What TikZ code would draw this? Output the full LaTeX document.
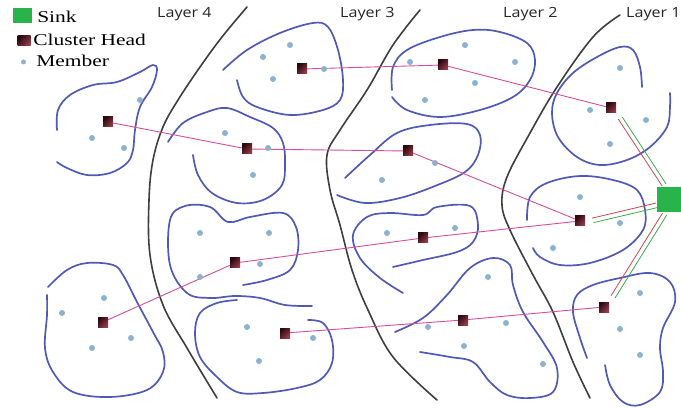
\documentclass[tikz,border=0pt]{standalone}
\usepackage{fontspec}
\setmainfont{Liberation Serif}
\newfontfamily\layerfont{Open Sans}
\usetikzlibrary{calc}
\definecolor{clblue}{RGB}{80,90,182}
\definecolor{mblue}{RGB}{140,178,208}
\definecolor{linkc}{RGB}{212,78,160}
\definecolor{redlinkc}{RGB}{205,70,85}
\definecolor{greenlinkc}{RGB}{60,172,72}
\definecolor{sinkg}{RGB}{40,180,75}
\definecolor{chdark}{RGB}{45,8,14}
\definecolor{chlight}{RGB}{150,60,75}
\definecolor{layergray}{RGB}{62,62,62}
\begin{document}
\begin{tikzpicture}[x=1pt,y=-1pt,
  layerline/.style={draw=layergray, line width=1.6pt, line cap=round},
  outline/.style={draw=clblue, line width=1.7pt, line cap=round},
  member/.style={circle, fill=mblue, inner sep=0pt, minimum size=6pt},
  head/.style={rectangle, inner sep=0pt, minimum size=10pt, left color=chdark, right color=chlight, shading angle=45},
  sinkbox/.style={rectangle, fill=sinkg, inner sep=0pt},
  link/.style={draw=linkc, line width=0.9pt},
  redlink/.style={draw=redlinkc, line width=0.8pt, shorten <=7pt, shorten >=1pt},
  greenlink/.style={draw=greenlinkc, line width=0.8pt, shorten <=7pt, shorten >=1pt},
  legtext/.style={font=\fontsize{16.5}{19}\selectfont, xscale=1.3, anchor=base west, inner sep=0pt},
  laytext/.style={font=\layerfont\fontsize{14}{16}\selectfont, xscale=1.15, anchor=base west, inner sep=0pt, text=black!85}
]
\useasboundingbox (0,0) rectangle (681,409);
\fill[white] (0,0) rectangle (681,409);

% legend
\node[sinkbox, minimum width=19pt, minimum height=15pt] (legsink) at (22.5,15.5) {};
\node[legtext] (legsinkt) at (37,23) {Sink};
\node[head, minimum width=13pt, minimum height=10pt] (leghead) at (24,41) {};
\node[legtext] (legheadt) at (33,46) {Cluster Head};
\node[member, minimum size=5pt] (legmem) at (23.5,62) {};
\node[legtext] (legmemt) at (36,67) {Member};

% layer labels
\node[laytext] (lab4) at (157,18) {Layer 4};
\node[laytext] (lab3) at (340,18) {Layer 3};
\node[laytext] (lab2) at (503,18) {Layer 2};
\node[laytext] (lab1) at (626,18) {Layer 1};

% layer lines
\draw[layerline] plot[smooth, tension=0.6] coordinates {(247,7) (222,37) (200,67) (178,100) (163,127) (153,160) (149,200) (150,255) (163,305) (187,348) (217,398)};
\draw[layerline] plot[smooth, tension=0.6] coordinates {(420,10) (393,45) (367,90) (340,130) (327,155) (330,190) (340,225) (352,270) (368,310) (393,357) (437,400)};
\draw[layerline] plot[smooth, tension=0.6] coordinates {(620,15) (593,37) (557,87) (530,133) (507,177) (502,205) (510,230) (533,275) (553,312) (573,362) (590,398)};

% cluster outlines
\draw[outline] plot[smooth, tension=0.6] coordinates {(57,130) (58,110) (70,95) (93,85) (117,82) (140,72) (153,65) (157,70) (152,87) (140,107) (135,130) (133,150) (127,163) (110,173) (87,175) (67,168) (57,162)};
\draw[outline] plot[smooth, tension=0.6] coordinates {(168,142) (183,123) (207,112) (227,108) (250,117) (273,128) (283,143) (285,163) (282,185) (263,200) (237,203) (212,193) (198,175) (193,155)};
\draw[outline] plot[smooth, tension=0.6] coordinates {(223,70) (247,50) (280,33) (313,23) (328,27) (338,50) (343,80) (340,100) (323,110) (290,115) (257,107) (243,97) (237,80)};
\draw[outline] plot[smooth, tension=0.6] coordinates {(392,90) (393,67) (407,50) (440,37) (473,30) (500,32) (527,43) (535,60) (530,80) (513,97) (480,110) (440,117) (407,110) (392,97)};
\draw[outline] plot[smooth, tension=0.6] coordinates {(345,178) (370,155) (397,133) (430,125) (467,124) (480,135) (478,155) (465,172) (435,186) (400,198) (365,203) (337,195)};
\draw[outline] plot[smooth, tension=0.6] coordinates {(642,87) (640,67) (633,50) (620,47) (597,57) (573,73) (557,93) (552,113) (558,137) (577,157) (600,165) (627,160) (650,147) (667,127) (670,107) (670,93)};
\draw[outline] plot[smooth, tension=0.6] coordinates {(527,220) (530,197) (547,183) (580,176) (613,180) (637,190) (645,210) (643,230) (623,250) (590,263) (560,265) (540,257) (533,248)};
\draw[outline] plot[smooth, tension=0.6] coordinates {(587,358) (580,338) (573,312) (577,295) (593,285) (620,278) (650,273) (670,282) (675,302) (663,328) (660,348) (663,372) (660,392) (640,405) (623,402) (610,385) (605,365)};
\draw[outline] plot[smooth, tension=0.6] coordinates {(243,285) (267,280) (290,270) (298,250) (296,227) (283,213) (250,217) (228,222) (210,207) (185,206) (170,220) (170,265) (187,293) (210,298) (235,296) (260,298) (285,305) (312,306)};
\draw[outline] plot[smooth, tension=0.6] coordinates {(308,320) (323,323) (332,340) (332,363) (320,380) (297,388) (263,393) (237,392) (217,377) (200,357) (195,333) (200,313) (217,303) (237,300)};
\draw[outline] plot[smooth, tension=0.6] coordinates {(48,287) (67,270) (87,263) (113,265) (123,275) (137,302) (153,332) (163,352) (163,372) (147,390) (110,397) (73,392) (53,372) (45,348) (47,315) (47,295)};
\draw[outline] plot[smooth, tension=0.6] coordinates {(393,267) (423,260) (457,252) (473,242) (478,225) (470,206) (437,207) (423,215) (390,213) (367,217) (353,235) (360,258) (380,278) (403,293)};
\draw[outline] plot[smooth, tension=0.6] coordinates {(395,332) (423,318) (447,295) (470,268) (493,258) (510,265) (513,285) (523,312) (543,342) (557,368) (553,392) (530,398) (507,395) (490,382) (473,362) (450,357) (420,352)};

% cluster heads
\node[head] (ch1) at (108,122) {};
\node[head] (ch2) at (247,149) {};
\node[head] (ch3) at (302,69) {};
\node[head] (ch4) at (443,65) {};
\node[head] (ch5) at (408,151) {};
\node[head] (ch6) at (611,108) {};
\node[head] (ch7) at (580,221) {};
\node[head] (ch8) at (604,307) {};
\node[head] (ch9) at (235,263) {};
\node[head] (ch10) at (103,322) {};
\node[head] (ch11) at (285,333) {};
\node[head] (ch12) at (423,238) {};
\node[head] (ch13) at (463,320) {};

% sink
\node[sinkbox, minimum width=28pt, minimum height=25pt] (sink) at (671,199.5) {};

% links between cluster heads
\draw[link] (ch1) -- (ch2);
\draw[link] (ch2) -- (ch5);
\draw[link] (ch5) -- (ch7);
\draw[link] (ch3) -- (ch4);
\draw[link] (ch4) -- (ch6);
\draw[link] (ch10) -- (ch9);
\draw[link] (ch9) -- (ch12);
\draw[link] (ch12) -- (ch7);
\draw[link] (ch11) -- (ch13);
\draw[link] (ch13) -- (ch8);

% links to the sink
\draw[redlink] (ch6) -- (sink);
\draw[greenlink, transform canvas={xshift=4pt, yshift=2pt}] (ch6) -- (sink);
\draw[redlink] (ch7) -- (sink);
\draw[greenlink, transform canvas={xshift=1.5pt, yshift=-4.5pt}] (ch7) -- (sink);
\draw[redlink] (ch8) -- (sink);
\draw[greenlink, transform canvas={xshift=4pt, yshift=-2.3pt}] (ch8) -- (sink);

% members
\foreach \p [count=\i] in {(140,100),(92,138),(124,148),
  (225,133),(268,148),(253,175),
  (263,57),(290,45),(273,79),(324,69),
  (410,62),(465,45),(515,62),(475,83),(425,100),
  (435,163),(382,180),
  (620,68),(590,110),(646,120),(610,144),
  (580,197),(620,223),(553,248),
  (640,293),(620,329),(640,355),
  (200,233),(269,233),(200,277),(260,264),
  (247,327),(313,338),(259,361),
  (104,298),(62,313),(131,338),(92,348),
  (387,233),(455,228),
  (488,277),(428,327),(506,323),(464,346),(543,364)}
  \node[member] (m\i) at \p {};
\end{tikzpicture}
\end{document}
